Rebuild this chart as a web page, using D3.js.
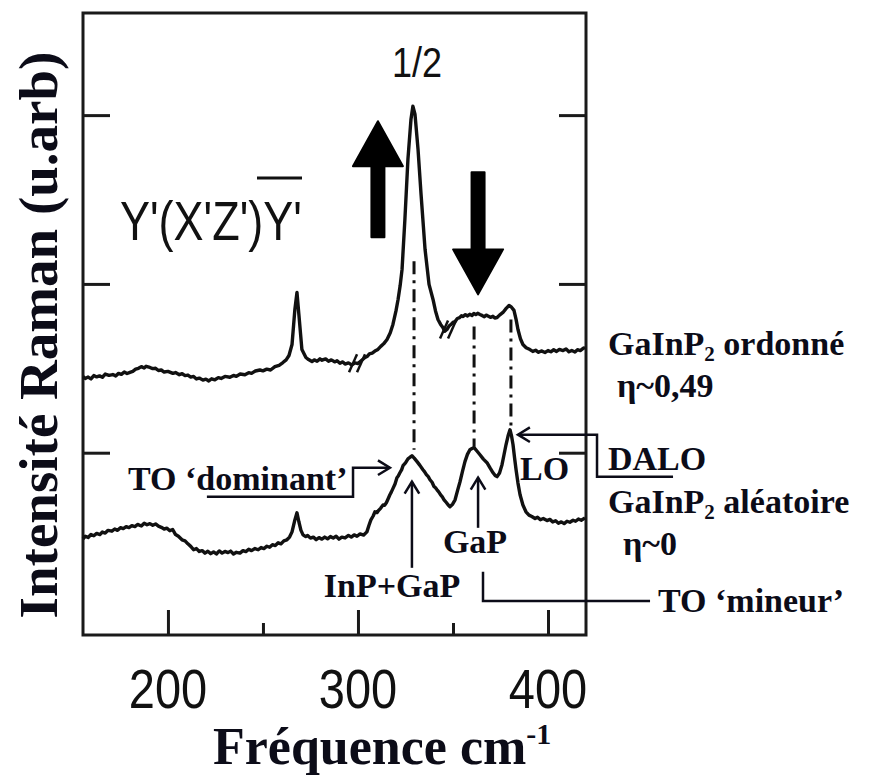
<!DOCTYPE html>
<html><head><meta charset="utf-8">
<script src="https://cdn.jsdelivr.net/npm/d3@7/dist/d3.min.js"></script>
<style>html,body{margin:0;padding:0;background:#fff}</style>
</head><body>
<script>
// ---------- DATA ----------
const xMajorTicks = [200, 300, 400];
const xMinorTicks = [250, 350];
const yTicks = [1, 2, 3];
// GaInP2 ordered (eta ~ 0.49) spectrum: [frequency cm-1, intensity a.u.]
const orderedSpectrum = [[155.3,1.451],[156.5,1.44],[158,1.448],[159.5,1.437],[161,1.457],[162.5,1.449],[164,1.455],[165.5,1.447],[167,1.466],[169,1.458],[171,1.463],[172.5,1.455],[174,1.47],[175.5,1.464],[177,1.478],[178.5,1.469],[180,1.476],[181.5,1.482],[183,1.495],[184.5,1.5],[186,1.51],[187.5,1.502],[188.5,1.512],[190.5,1.505],[192,1.498],[193.5,1.5],[195,1.487],[196.5,1.49],[198,1.478],[200,1.482],[202.6,1.47],[204,1.475],[206,1.462],[207.5,1.468],[209,1.457],[210.5,1.46],[212,1.448],[213.5,1.452],[215,1.437],[216.5,1.442],[218.4,1.43],[220,1.436],[221.5,1.425],[223,1.438],[224.7,1.432],[226.5,1.445],[228,1.44],[230,1.452],[232.6,1.447],[234.5,1.458],[236,1.452],[238,1.466],[240.5,1.462],[242.5,1.474],[244,1.47],[246,1.484],[248.4,1.49],[250,1.485],[252,1.495],[254,1.49],[256.3,1.51],[258.5,1.518],[260.5,1.534],[262.2,1.55],[263.7,1.576],[265.3,1.641],[266.8,1.849],[267.9,1.95],[268.9,1.819],[270.5,1.611],[272.6,1.564],[274,1.552],[275.8,1.54],[277,1.55],[278.5,1.542],[280,1.556],[281.1,1.548],[283,1.556],[284.5,1.542],[286,1.55],[287.9,1.538],[289,1.545],[290.5,1.53],[292,1.538],[293.2,1.525],[295,1.532],[296.8,1.52],[298.5,1.532],[300,1.528],[302,1.548],[303.7,1.564],[305,1.572],[306,1.585],[307.5,1.59],[308.9,1.602],[310.5,1.612],[312,1.63],[313.5,1.645],[315.3,1.671],[317,1.71],[318.4,1.76],[320,1.84],[321.1,1.908],[322.2,1.99],[323.2,2.086],[324.7,2.383],[326.3,2.739],[327.9,2.976],[328.9,3.053],[330.0,3.006],[331.6,2.798],[333.2,2.531],[335.3,2.205],[337.4,1.997],[339.5,1.908],[340.8,1.84],[342.1,1.789],[343.5,1.76],[344.5,1.745],[345.7,1.72],[346.8,1.73],[348,1.752],[349,1.76],[350,1.772],[351.1,1.777],[352.3,1.795],[353.5,1.8],[354.5,1.812],[355.3,1.807],[356.5,1.818],[357.5,1.81],[358.8,1.82],[360.0,1.813],[361,1.825],[362,1.818],[363,1.826],[364.2,1.819],[365.5,1.812],[366.5,1.806],[367.5,1.815],[368.4,1.81],[369.7,1.802],[371,1.808],[372,1.798],[373.2,1.801],[374.5,1.815],[376.3,1.831],[378,1.855],[379.5,1.872],[380.8,1.862],[382.1,1.843],[383.2,1.79],[384.2,1.73],[385.5,1.675],[386.8,1.641],[388.5,1.622],[390.5,1.611],[392,1.6],[393.5,1.607],[395,1.595],[396.5,1.603],[398.4,1.594],[400,1.605],[401.5,1.598],[403,1.61],[404.5,1.6],[406,1.612],[407.9,1.605],[409.5,1.615],[411,1.598],[412.5,1.606],[414.2,1.597],[415.5,1.61],[417,1.605],[418.5,1.618],[419.5,1.623]];
// GaInP2 random (eta ~ 0) spectrum
const randomSpectrum = [[155.3,0.49],[156.5,0.505],[158,0.498],[159.5,0.515],[161,0.508],[162.5,0.522],[164.2,0.515],[165.5,0.53],[167,0.524],[168.5,0.54],[170.5,0.535],[172,0.548],[173.5,0.54],[175,0.556],[176.5,0.55],[178,0.562],[179.5,0.556],[181,0.568],[182.6,0.562],[184,0.575],[186,0.566],[187.5,0.582],[189,0.573],[190.5,0.58],[192,0.57],[193.5,0.578],[195,0.565],[196.5,0.558],[198,0.548],[199.5,0.553],[201,0.538],[202.5,0.545],[204,0.515],[205.5,0.505],[207.4,0.484],[209,0.478],[210.5,0.46],[212,0.445],[213.5,0.425],[215,0.432],[216.5,0.415],[218,0.42],[219.5,0.405],[221,0.416],[222.5,0.402],[224,0.412],[225.5,0.4],[227,0.418],[228.5,0.405],[230,0.415],[231.6,0.408],[233,0.417],[234.5,0.4],[236,0.41],[237.9,0.405],[239.5,0.42],[241,0.414],[242.5,0.428],[244,0.42],[245.8,0.432],[247.5,0.425],[249,0.438],[250.5,0.432],[252.1,0.446],[253.5,0.44],[255,0.455],[256.5,0.45],[258,0.466],[259.5,0.46],[261,0.478],[262.6,0.484],[264,0.5],[265.3,0.531],[266.8,0.602],[267.9,0.644],[268.9,0.591],[270,0.54],[271.1,0.513],[272.5,0.503],[273.5,0.51],[275,0.494],[276.5,0.5],[278,0.485],[279.5,0.497],[281,0.488],[282.5,0.5],[284,0.49],[285.5,0.503],[287,0.495],[288.5,0.505],[290,0.488],[291.5,0.5],[293.2,0.495],[295,0.51],[296.5,0.5],[298,0.513],[299.5,0.505],[301.1,0.519],[303,0.512],[304.7,0.531],[305.8,0.57],[306.8,0.602],[308,0.625],[308.9,0.65],[310,0.645],[311,0.66],[312,0.672],[313.2,0.691],[314,0.688],[315,0.705],[316,0.73],[316.8,0.751],[317.6,0.768],[318.5,0.79],[319.5,0.815],[320.5,0.852],[321.2,0.862],[322,0.88],[323,0.9],[323.7,0.923],[325,0.94],[326.3,0.964],[327.3,0.972],[328.4,0.982],[329.6,0.968],[331.1,0.947],[332.6,0.925],[334.2,0.899],[335,0.888],[336,0.87],[337,0.858],[337.9,0.84],[339,0.825],[340,0.8],[340.8,0.792],[341.6,0.78],[342.5,0.768],[343.5,0.75],[344.4,0.738],[345.3,0.721],[346.5,0.705],[347.5,0.69],[348.4,0.68],[349.8,0.695],[351.1,0.721],[352.5,0.78],[353.7,0.828],[355,0.89],[356.3,0.947],[357.6,0.99],[358.9,1.018],[360,1.025],[361.1,1.03],[362.6,1.01],[364.2,0.988],[366,0.962],[367.9,0.941],[369.5,0.91],[371.1,0.881],[372.2,0.865],[373.2,0.858],[374.5,0.88],[375.8,0.929],[376.8,0.985],[377.9,1.047],[379,1.1],[380.0,1.136],[380.8,1.1],[381.6,1.047],[382.4,0.97],[383.2,0.899],[384.2,0.82],[385.3,0.751],[386.8,0.69],[388.4,0.65],[390,0.63],[391.5,0.622],[393.2,0.61],[394.5,0.618],[396,0.603],[397.5,0.61],[399.5,0.598],[401,0.605],[402.5,0.59],[404,0.597],[405.5,0.582],[407,0.59],[408.5,0.58],[410,0.594],[411.5,0.588],[413.2,0.6],[414.5,0.594],[416,0.607],[417.5,0.6],[419.5,0.614]];
// dash-dot peak guides: [freq, yTop, yBottom]
const peakGuides = [[329.5, 2.134, 1.018],[361.1, 1.748, 1.036],[380.5, 1.789, 1.137]];
// axis breaks on ordered spectrum
const breakMarks = [[299.5, 1.53],[347.4, 1.73]];

// ---------- SETUP ----------
const W = 877, H = 776;
const svg = d3.select("body").append("svg").attr("width", W).attr("height", H);
svg.append("rect").attr("width", W).attr("height", H).attr("fill", "#fff");

const x = d3.scaleLinear().domain([155.3, 420]).range([83, 586]);
const y = d3.scaleLinear().domain([-0.08, 3.605]).range([635, 13]);
const ink = "#111";
const txt = "#0c0c18";

// frame
svg.append("rect").attr("x", 83).attr("y", 13).attr("width", 503).attr("height", 622)
  .attr("fill", "none").attr("stroke", "#1a1a1a").attr("stroke-width", 3);

function styleAxis(g){ g.select(".domain").remove(); g.selectAll(".tick line").attr("stroke", "#1a1a1a").attr("stroke-width", 3); g.selectAll("text").remove(); }
svg.append("g").attr("transform", "translate(0,635)")
  .call(d3.axisBottom(x).tickValues(xMajorTicks).tickSize(-25).tickFormat("")).call(styleAxis);
svg.append("g").attr("transform", "translate(0,635)")
  .call(d3.axisBottom(x).tickValues(xMinorTicks).tickSize(-12).tickFormat("")).call(styleAxis);
svg.append("g").attr("transform", "translate(83,0)")
  .call(d3.axisLeft(y).tickValues(yTicks).tickSize(-27).tickFormat("")).call(styleAxis);
svg.append("g").attr("transform", "translate(586,0)")
  .call(d3.axisRight(y).tickValues(yTicks).tickSize(-27).tickFormat("")).call(styleAxis);

// tick labels (stretched Helvetica-like)
xMajorTicks.forEach(v => {
  svg.append("text").attr("transform", `translate(${x(v)},708) scale(1,1.2)`)
    .attr("text-anchor", "middle").attr("font-family", "Liberation Sans, Arial, sans-serif")
    .attr("font-size", 47).attr("fill", "#111").text(v);
});

// spectra
const line = d3.line().x(d => x(d[0])).y(d => y(d[1]));
[orderedSpectrum, randomSpectrum].forEach(s => {
  svg.append("path").attr("d", line(s)).attr("fill", "none").attr("stroke", ink)
    .attr("stroke-width", 3.4).attr("stroke-linejoin", "round");
});

// peak guides
peakGuides.forEach(g => {
  svg.append("line").attr("x1", x(g[0])).attr("x2", x(g[0])).attr("y1", y(g[1])).attr("y2", y(g[2]))
    .attr("stroke", ink).attr("stroke-width", 3).attr("stroke-dasharray", "13,6,3,6");
});

// break marks
breakMarks.forEach(b => {
  const cx = x(b[0]), cy = y(b[1]);
  [-4, 4].forEach(o => {
    svg.append("line").attr("x1", cx + o - 4).attr("y1", cy + 9).attr("x2", cx + o + 4).attr("y2", cy - 9)
      .attr("stroke", ink).attr("stroke-width", 2.5);
  });
});

// "1/2"
svg.append("text").attr("transform", "translate(417,77) scale(1,1.17)").attr("text-anchor", "middle")
  .attr("font-family", "Liberation Sans, Arial, sans-serif").attr("font-size", 36).attr("fill", "#111").text("1/2");
// geometry label
svg.append("text").attr("transform", "translate(120,240) scale(1,1.22)")
  .attr("font-family", "Liberation Sans, Arial, sans-serif").attr("font-size", 45).attr("fill", "#111").text("Y'(X'Z')Y'");
svg.append("line").attr("x1", 257).attr("x2", 302).attr("y1", 178).attr("y2", 178).attr("stroke", "#111").attr("stroke-width", 3);

// big arrows (up: intensity increases for 1/2 peak; down: decreases)
function bigArrow(cx, yTail, yTip){
  const dir = yTip < yTail ? -1 : 1;
  const headLen = 45, headHalf = 25, shaftHalf = 6.5;
  const yBase = yTip - dir * headLen;
  const p = d3.path();
  p.moveTo(cx - shaftHalf, yTail); p.lineTo(cx - shaftHalf, yBase); p.lineTo(cx - headHalf, yBase);
  p.lineTo(cx, yTip); p.lineTo(cx + headHalf, yBase); p.lineTo(cx + shaftHalf, yBase); p.lineTo(cx + shaftHalf, yTail); p.closePath();
  svg.append("path").attr("d", p.toString()).attr("fill", "#000").attr("stroke", "#000").attr("stroke-width", 2).attr("stroke-linejoin", "round");
}
bigArrow(x(310.5), y(2.276), y(2.964));
bigArrow(x(363.2), y(2.662), y(1.938));

// thin annotation arrows
function polyline(pts, head){
  const l = d3.line()(pts.map(p => [x(p[0]), y(p[1])]));
  svg.append("path").attr("d", l).attr("fill", "none").attr("stroke", txt).attr("stroke-width", 2.5);
  if (head) {
    const a = pts[pts.length - 1], b = pts[pts.length - 2];
    const tx = x(a[0]), ty = y(a[1]);
    const ang = Math.atan2(ty - y(b[1]), tx - x(b[0]));
    const L = 14, s = 0.55;
    const p = d3.path();
    p.moveTo(tx - L * Math.cos(ang - s), ty - L * Math.sin(ang - s));
    p.lineTo(tx, ty);
    p.lineTo(tx - L * Math.cos(ang + s), ty - L * Math.sin(ang + s));
    svg.append("path").attr("d", p.toString()).attr("fill", "none").attr("stroke", txt).attr("stroke-width", 2.5);
  }
}
polyline([[220.5,0.739],[297.4,0.739],[297.4,0.911],[316.8,0.911]], true);   // TO dominant
polyline([[328.4,0.318],[328.4,0.828]], true);                                 // InP+GaP
polyline([[363.2,0.555],[363.2,0.852]], true);                                 // GaP
polyline([[365.8,0.294],[365.8,0.122],[453.7,0.122]], false);                  // TO mineur
polyline([[465.8,0.858],[425.8,0.858],[425.8,1.107],[384.2,1.107]], true);     // LO / DALO

// serif labels
function label(xp, yp, parts, anchor){
  const t = svg.append("text").attr("x", xp).attr("y", yp).attr("text-anchor", anchor || "start")
    .attr("font-family", "Liberation Serif, Times New Roman, serif").attr("font-weight", "bold")
    .attr("font-size", 34).attr("fill", txt);
  parts.forEach(pt => {
    if (typeof pt === "string") t.append("tspan").text(pt);
    else t.append("tspan").attr("font-size", pt.size).attr("dy", pt.dy).text(pt.t);
  });
  return t;
}
label(128, 490, ["TO \u2018dominant\u2019"]);
label(392, 597, ["InP+GaP"], "middle");
label(475, 553, ["GaP"], "middle");
label(520, 480, ["LO"]);
label(608, 355, ["GaInP", {t:"2", size:21, dy:6}, {t:" ordonné", size:34, dy:-6}]);
label(617, 397, ["\u03b7~0,49"]);
label(608, 470, ["DALO"]);
label(608, 513, ["GaInP", {t:"2", size:21, dy:6}, {t:" aléatoire", size:34, dy:-6}]);
label(623, 555, ["\u03b7~0"]);
label(658, 612, ["TO \u2018mineur\u2019"]);

// axis titles
const xt = svg.append("text").attr("x", 213).attr("y", 764)
  .attr("font-family", "Liberation Serif, Times New Roman, serif").attr("font-weight", "bold")
  .attr("font-size", 52).attr("fill", txt);
xt.append("tspan").text("Fréquence cm");
xt.append("tspan").attr("font-size", 30).attr("dy", -20).text("-1");

svg.append("text").attr("transform", "translate(57,335) rotate(-90)").attr("text-anchor", "middle")
  .attr("font-family", "Liberation Serif, Times New Roman, serif").attr("font-weight", "bold")
  .attr("font-size", 55).attr("fill", txt).text("Intensité Raman (u.arb)");
</script>
</body></html>
